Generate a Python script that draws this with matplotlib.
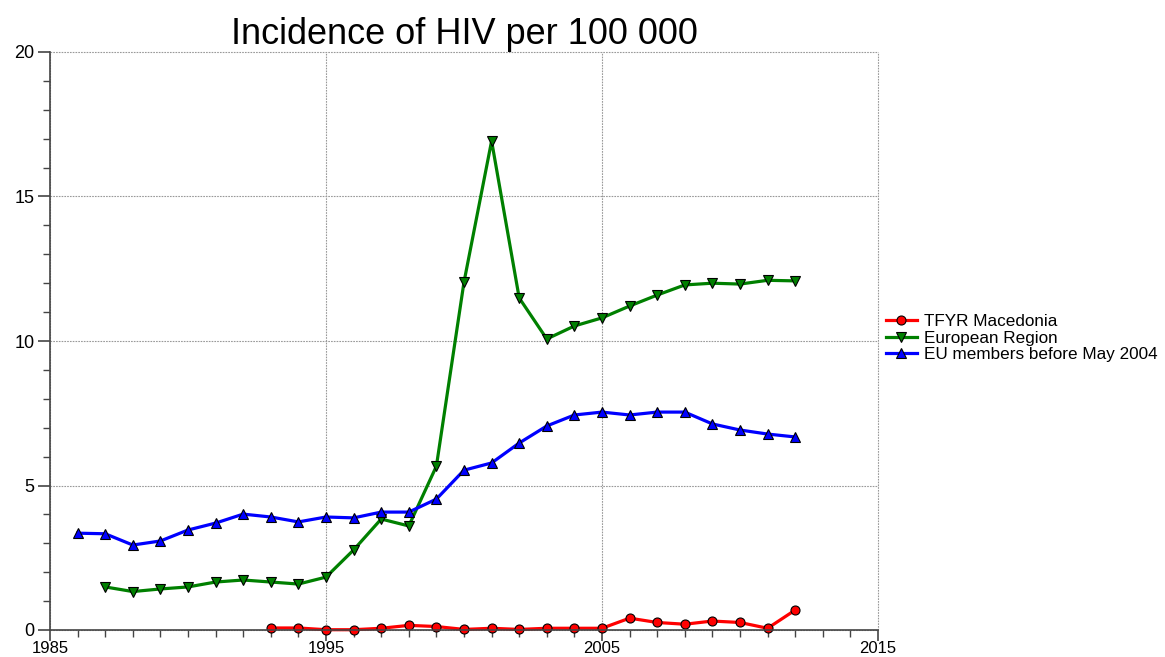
import matplotlib
matplotlib.use("Agg")
import matplotlib.pyplot as plt
from matplotlib.ticker import MultipleLocator, FixedLocator

plt.rcParams['font.family'] = ['Liberation Sans', 'DejaVu Sans']

years_mk = list(range(1993, 2013))
mk = [0.07, 0.07, 0.01, 0.01, 0.06, 0.16, 0.12, 0.02, 0.06, 0.02,
      0.06, 0.06, 0.06, 0.41, 0.26, 0.20, 0.31, 0.26, 0.06, 0.69]

years_eur = list(range(1987, 2013))
eur = [1.49, 1.33, 1.42, 1.49, 1.66, 1.73, 1.66, 1.59, 1.83, 2.77,
       3.84, 3.60, 5.67, 12.04, 16.92, 11.49, 10.07, 10.52, 10.80, 11.21,
       11.59, 11.94, 12.00, 11.97, 12.10, 12.08]

years_eu = list(range(1986, 2013))
eu = [3.35, 3.33, 2.94, 3.08, 3.46, 3.70, 4.01, 3.91, 3.74, 3.91,
      3.88, 4.08, 4.08, 4.53, 5.53, 5.78, 6.47, 7.06, 7.44, 7.54,
      7.44, 7.54, 7.54, 7.13, 6.92, 6.78, 6.68]

labels = ["TFYR Macedonia", "European Region", "EU members before May 2004"]
x_major = [1985, 1995, 2005, 2015]

W, H = 1165, 657
fig = plt.figure(figsize=(W / 100, H / 100), dpi=100)
ax = fig.add_axes([50 / W, (H - 630) / H, (878 - 50) / W, (630 - 52) / H])

ms = 6.5
ax.plot(years_mk, mk, color='#ff0000', lw=2.3, marker='o', ms=ms,
        mfc='#ff0000', mec='black', mew=0.8, label=labels[0], clip_on=False, zorder=3)
ax.plot(years_eur, eur, color='#008000', lw=2.3, marker='v', ms=ms + 0.5,
        mfc='#008000', mec='black', mew=0.8, label=labels[1], clip_on=False, zorder=3)
ax.plot(years_eu, eu, color='#0000ff', lw=2.3, marker='^', ms=ms + 0.5,
        mfc='#0000ff', mec='black', mew=0.8, label=labels[2], clip_on=False, zorder=3)

ax.set_xlim(1985, 2015)
ax.set_ylim(0, 20)
ax.xaxis.set_major_locator(FixedLocator(x_major))
ax.xaxis.set_minor_locator(MultipleLocator(1))
ax.yaxis.set_major_locator(MultipleLocator(5))
ax.yaxis.set_minor_locator(MultipleLocator(1))

for s in ['top', 'right']:
    ax.spines[s].set_visible(False)
for s in ['left', 'bottom']:
    ax.spines[s].set_color('#444444')
    ax.spines[s].set_linewidth(1.2)
    ax.spines[s].set_zorder(4)

ax.tick_params(which='major', direction='out', length=9, width=1.2, color='#444444',
               labelsize=13, pad=2)
ax.tick_params(which='minor', direction='out', length=5, width=1.0, color='#444444')
ax.tick_params(axis='x', which='major', length=8, pad=0, labelsize=12)

ax.grid(True, which='major', color='#999999', linestyle=(0, (1.5, 1.0)), linewidth=0.8)
for gl in ax.get_xgridlines() + ax.get_ygridlines():
    gl.set_clip_on(False)
ax.set_axisbelow(True)

ax.set_title("Incidence of HIV per 100 000", fontsize=26, pad=5)

fig.legend(loc='center left', bbox_to_anchor=(886 / W, 1 - 338 / H), frameon=False,
           fontsize=12.3, handlelength=1.8, handletextpad=0.4, labelspacing=0.08,
           borderpad=0, borderaxespad=0)

fig.savefig("out.png", dpi=100)
